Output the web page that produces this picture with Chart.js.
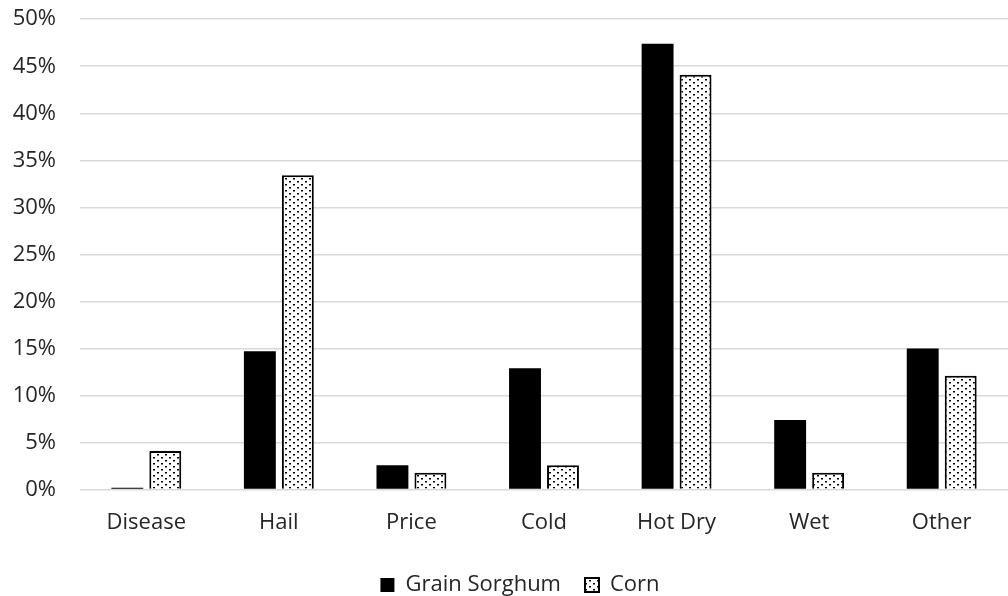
<!DOCTYPE html>
<html>
<head>
<meta charset="utf-8">
<script src="https://cdn.jsdelivr.net/npm/chart.js@4"></script>
<style>
  html, body { margin: 0; padding: 0; background: #fff; }
  #wrap { width: 1008px; height: 596px; }
</style>
</head>
<body>
<div id="wrap"><canvas id="chart"></canvas></div>
<script>
  const categories = ["Disease", "Hail", "Price", "Cold", "Hot Dry", "Wet", "Other"];
  const sorghum = [0.2, 14.7, 2.6, 12.9, 47.4, 7.4, 15.0];
  const corn = [4.1, 33.4, 1.8, 2.6, 44.1, 1.8, 12.1];
  const yTicks = [0, 5, 10, 15, 20, 25, 30, 35, 40, 45, 50];

  // dotted fill like the excel pattern
  function dotPattern() {
    const c = document.createElement('canvas');
    c.width = 8; c.height = 6;
    const g = c.getContext('2d');
    g.fillStyle = '#fff';
    g.fillRect(0, 0, 8, 6);
    g.fillStyle = '#000';
    g.fillRect(1, 1, 2, 1.5);
    g.fillRect(5, 4, 2, 1.5);
    return g.createPattern(c, 'repeat');
  }
  const dots = dotPattern();

  const font = { family: 'Open Sans', size: 22 };

  // legend sits a bit right of the canvas centre in the original
  const legendShift = {
    id: 'legendShift',
    afterLayout(chart) {
      chart.legend.left += 16;
      chart.legend.right += 16;
      chart.legend.top += 2;
      chart.legend.bottom += 2;
    }
  };

  const ctx = document.getElementById('chart').getContext('2d');
  new Chart(ctx, {
    type: 'bar',
    data: {
      labels: categories,
      datasets: [
        {
          label: 'Grain Sorghum',
          data: sorghum,
          backgroundColor: '#000',
          borderColor: '#000',
          borderWidth: 0,
          categoryPercentage: 0.573,
          barPercentage: 0.84
        },
        {
          label: 'Corn',
          data: corn,
          backgroundColor: dots,
          borderColor: '#000',
          borderWidth: 2,
          categoryPercentage: 0.573,
          barPercentage: 0.84
        }
      ]
    },
    options: {
      responsive: true,
      maintainAspectRatio: false,
      animation: false,
      layout: { padding: { top: 0, right: 0, left: 0, bottom: -8 } },
      scales: {
        x: {
          grid: { display: false },
          border: { display: false },
          ticks: { color: '#262626', font: font, padding: 12 }
        },
        y: {
          min: 0,
          max: 50,
          afterBuildTicks: function(scale) {
            scale.ticks = yTicks.map(v => ({ value: v }));
          },
          afterFit: function(scale) { scale.width = 80; },
          grid: { color: '#d9d9d9', lineWidth: 1.5, tickLength: 18, tickColor: 'rgba(0,0,0,0)' },
          border: { display: false },
          ticks: {
            color: '#262626',
            font: font,
            padding: 6,
            callback: v => v + '%'
          }
        }
      },
      plugins: {
        legend: {
          position: 'bottom',
          labels: {
            color: '#262626',
            font: font,
            boxWidth: 14,
            boxHeight: 14,
            padding: 24
          }
        },
        tooltip: { enabled: false }
      }
    },
    plugins: [legendShift]
  });
</script>
</body>
</html>
